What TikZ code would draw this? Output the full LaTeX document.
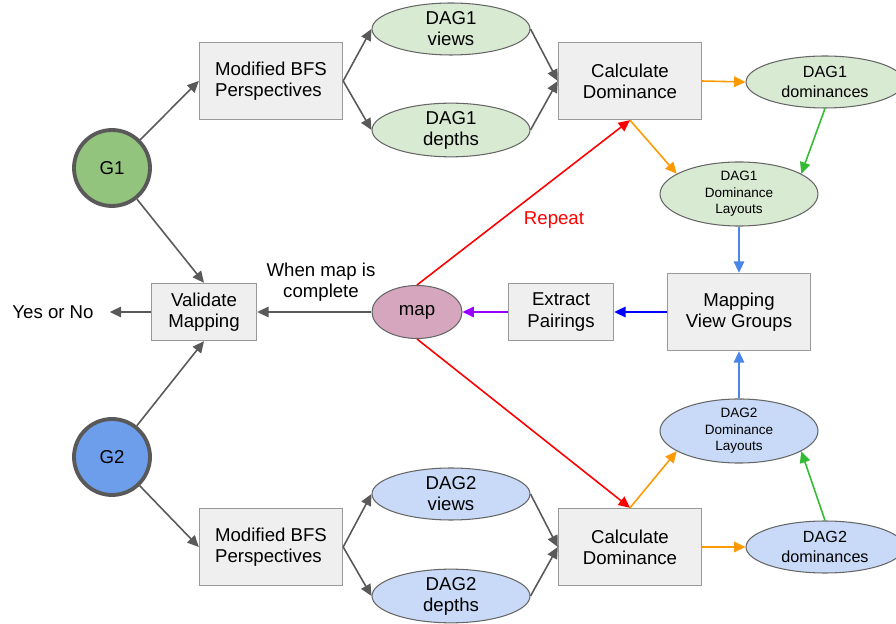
\documentclass[tikz,border=0pt]{standalone}
\usepackage{fontspec}
\setmainfont{Liberation Sans}
\usetikzlibrary{shapes.geometric,arrows.meta}
\definecolor{darkline}{HTML}{595959}
\definecolor{boxline}{HTML}{999999}
\definecolor{boxfill}{HTML}{EFEFEF}
\definecolor{ovalline}{HTML}{666666}
\definecolor{greenfill}{HTML}{D9EAD3}
\definecolor{bluefill}{HTML}{C9DAF8}
\definecolor{gonefill}{HTML}{93C47D}
\definecolor{gtwofill}{HTML}{6D9EEB}
\definecolor{mapfill}{HTML}{D5A6BD}
\definecolor{orangearr}{HTML}{FF9900}
\definecolor{greenarr}{HTML}{33BB33}
\definecolor{skyarr}{HTML}{4A86E8}
\definecolor{purplearr}{HTML}{9900FF}
\begin{document}
\begin{tikzpicture}[x=0.02cm,y=-0.02cm,font=\fontsize{10.6}{12}\selectfont,
  box/.style={draw=boxline,fill=boxfill,line width=0.8pt,minimum width=2.86cm,minimum height=1.54cm,align=center,inner sep=0pt},
  smallbox/.style={box,minimum width=2.1cm,minimum height=1.14cm},
  graphnode/.style={circle,draw=darkline,line width=2.2pt,minimum size=1.52cm,inner sep=0pt},
  blob/.style={ellipse,draw=ovalline,line width=0.6pt,minimum width=3.16cm,minimum height=1.04cm,inner sep=0pt,align=center},
  smalltext/.style={font=\fontsize{7.7}{9.4}\selectfont},
  arr/.style={-{Triangle[length=6.5pt,width=6pt]},line width=0.9pt,draw=darkline}]
\useasboundingbox (0,0) rectangle (896,624);
\node[graphnode,fill=gonefill] (gone) at (112,168) {G1};
\node[graphnode,fill=gtwofill] (gtwo) at (112,457) {G2};
\node[box,align=left] (bfsone) at (271,81) {Modified BFS\\Perspectives};
\node[box,align=left] (bfstwo) at (271,547) {Modified BFS\\Perspectives};
\node[blob,fill=greenfill] (viewsone) at (451,29) {DAG1\\views};
\node[blob,fill=greenfill] (depthsone) at (451,130) {DAG1\\depths};
\node[blob,fill=bluefill] (viewstwo) at (451,494) {DAG2\\views};
\node[blob,fill=bluefill] (depthstwo) at (451,596) {DAG2\\depths};
\node[box] (calcone) at (630,81) {Calculate\\Dominance};
\node[box] (calctwo) at (630,547) {Calculate\\Dominance};
\node[blob,fill=greenfill,font=\fontsize{9.2}{11.2}\selectfont] (domone) at (825,82) {DAG1\\dominances};
\node[blob,fill=bluefill,font=\fontsize{9.2}{11.2}\selectfont] (domtwo) at (825,547) {DAG2\\dominances};
\node[blob,fill=greenfill,smalltext] (layone) at (739,194) {DAG1\\Dominance\\Layouts};
\node[blob,fill=bluefill,smalltext] (laytwo) at (739,431) {DAG2\\Dominance\\Layouts};
\node[box] (mapping) at (739,312) {Mapping\\View Groups};
\node[smallbox] (extract) at (561,312) {Extract\\Pairings};
\node[ellipse,draw=ovalline,line width=0.6pt,fill=mapfill,minimum width=1.8cm,minimum height=1.06cm,inner sep=0pt] (map) at (417,312) {map};
\node[smallbox] (validate) at (204,312) {Validate\\Mapping};
\node[inner xsep=9pt] (answer) at (53,312) {Yes or No};
\node[align=center] (complete) at (321,282) {When map is\\complete};
\node[text=red] (repeat) at (554,220) {Repeat};

\draw[arr] (gone) -- (bfsone.west);
\draw[arr] (gone) -- (validate.north);
\draw[arr] (gtwo) -- (validate.south);
\draw[arr] (gtwo) -- (bfstwo.west);
\draw[arr] (bfsone.east) -- (viewsone.west);
\draw[arr] (bfsone.east) -- (depthsone.west);
\draw[arr] (bfstwo.east) -- (viewstwo.west);
\draw[arr] (bfstwo.east) -- (depthstwo.west);
\draw[arr] (viewsone.east) -- (calcone.west);
\draw[arr] (depthsone.east) -- (calcone.west);
\draw[arr] (viewstwo.east) -- (calctwo.west);
\draw[arr] (depthstwo.east) -- (calctwo.west);
\draw[arr,draw=orangearr,fill=orangearr] (calcone.east) -- (domone.west);
\draw[arr,draw=orangearr,fill=orangearr] (calcone.south) -- (layone.162);
\draw[arr,draw=orangearr,fill=orangearr] (calctwo.east) -- (domtwo.west);
\draw[arr,draw=orangearr,fill=orangearr] (calctwo.north) -- (laytwo.198);
\draw[arr,draw=greenarr,fill=greenarr] (domone.south) -- (layone.18);
\draw[arr,draw=greenarr,fill=greenarr] (domtwo.north) -- (laytwo.342);
\draw[arr,draw=skyarr,fill=skyarr] (layone.south) -- (mapping.north);
\draw[arr,draw=skyarr,fill=skyarr] (laytwo.north) -- (mapping.south);
\draw[arr,draw=blue,fill=blue] (mapping.west) -- (extract.east);
\draw[arr,draw=purplearr,fill=purplearr] (extract.west) -- (map.east);
\draw[arr] (map.west) -- (validate.east);
\draw[arr] (validate.west) -- (answer.east);
\draw[arr,draw=red,fill=red] (map.north) -- (calcone.south);
\draw[arr,draw=red,fill=red] (map.south) -- (calctwo.north);
\end{tikzpicture}
\end{document}
